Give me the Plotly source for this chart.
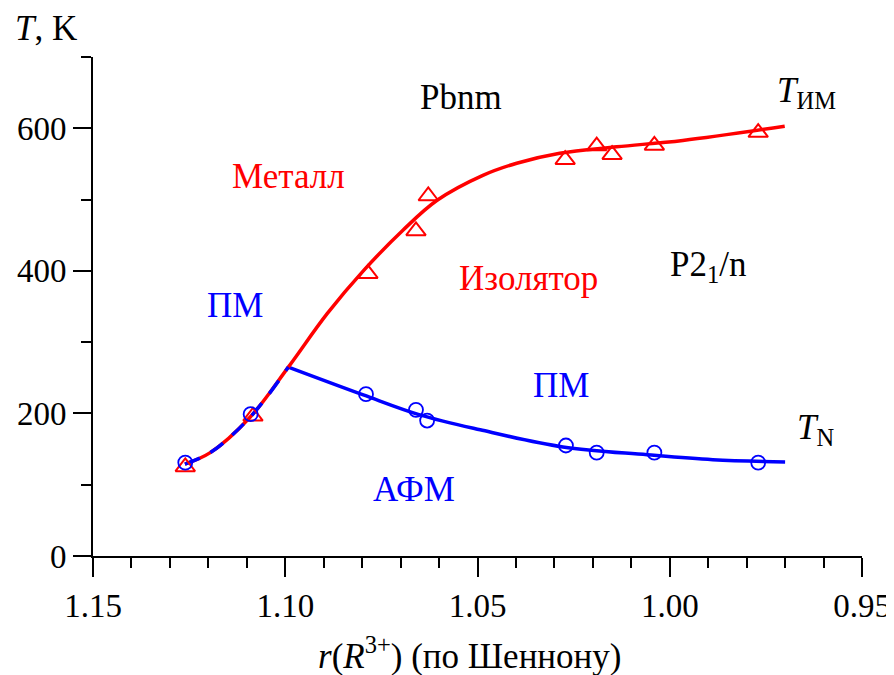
import plotly.graph_objects as go

# Measured points
tim_x = [1.126, 1.1084, 1.0785, 1.066, 1.0628, 1.0272, 1.019, 1.015, 1.004, 0.977]
tim_y = [125, 196, 396, 456, 505, 556, 575, 563, 576, 594]

tn_x = [1.126, 1.109, 1.079, 1.066, 1.0631, 1.027, 1.019, 1.004, 0.977]
tn_y = [131, 199, 227, 205, 190, 155, 145, 145, 131]

# Fitted curves
red_cx = [1.1261, 1.1195, 1.1091, 1.0992, 1.0891, 1.0797, 1.0694, 1.0605, 1.0486, 1.0398, 1.0286, 1.0138, 0.9966, 0.9701]
red_cy = [129, 145, 195, 265, 340, 400, 457, 499, 534, 551, 565, 574, 583, 603]

blue_low_x = [1.1261, 1.1195, 1.1091, 1.0992]
blue_low_y = [129, 145, 195, 265]
blue_high_x = [1.0992, 1.0797, 1.065, 1.0493, 1.0278, 1.0059, 0.9888, 0.9700]
blue_high_y = [265, 226, 198, 177, 153, 142, 135, 132]

x_ticks = [1.15, 1.10, 1.05, 1.00, 0.95]
y_ticks = [0, 200, 400, 600]

RED = "#ff0000"
BLUE = "#0000ff"
FONT = "Liberation Serif"
FS = 33
LFS = 35

fig = go.Figure()
fig.add_trace(go.Scatter(x=blue_high_x, y=blue_high_y, mode="lines", line=dict(color=BLUE, width=3.5, shape="spline"), showlegend=False))
fig.add_trace(go.Scatter(x=red_cx, y=red_cy, mode="lines", line=dict(color=RED, width=3.5, shape="spline"), showlegend=False))
fig.add_trace(go.Scatter(x=blue_low_x, y=blue_low_y, mode="lines", line=dict(color=BLUE, width=3.5, shape="spline", dash="16px,12px"), showlegend=False))
fig.add_trace(go.Scatter(x=tim_x, y=tim_y, mode="markers",
                         marker=dict(symbol="triangle-up-open", size=17, color=RED, line=dict(color=RED, width=2)), showlegend=False))
fig.add_trace(go.Scatter(x=tn_x, y=tn_y, mode="markers",
                         marker=dict(symbol="circle-open", size=14, color=BLUE, line=dict(color=BLUE, width=1.8)), showlegend=False))

labels = [
    ("Pbnm", 1.0544, 643, "black"),
    ("Металл", 1.0992, 533, RED),
    ("ПМ", 1.113, 352, BLUE),
    ("Изолятор", 1.0368, 389, RED),
    ("P2<sub>1</sub>/n", 0.990, 406, "black"),
    ("ПМ", 1.0284, 239, BLUE),
    ("АФМ", 1.0664, 93, BLUE),
    ("<i>T</i><sub>ИМ</sub>", 0.9645, 650, "black"),
    ("<i>T</i><sub>N</sub>", 0.962, 178, "black"),
]
for txt, x, y, c in labels:
    fig.add_annotation(x=x, y=y, xref="x", yref="y", text=txt, showarrow=False,
                       font=dict(family=FONT, size=LFS, color=c), xanchor="center", yanchor="middle")

fig.add_annotation(x=-0.061, y=1.058, xref="paper", yref="paper", text="<i>T</i>, K", showarrow=False,
                   font=dict(family=FONT, size=LFS, color="black"), xanchor="center", yanchor="middle")
fig.add_annotation(x=0.490, y=-0.196, xref="paper", yref="paper",
                   text="<i>r</i>(<i>R</i><sup>3+</sup>) (по Шеннону)", showarrow=False,
                   font=dict(family=FONT, size=LFS, color="black"), xanchor="center", yanchor="middle")

fig.update_layout(
    width=886, height=667,
    margin=dict(l=85, r=32, t=49, b=118.5, autoexpand=False),
    paper_bgcolor="white", plot_bgcolor="white",
    font=dict(family=FONT, size=FS, color="black"),
    xaxis=dict(range=[1.15, 0.95], tickvals=x_ticks, ticktext=[f"{v:.2f}" for v in x_ticks],
               automargin=False,
               showgrid=False, zeroline=False, showline=True, linecolor="black", linewidth=2,
               ticks="outside", ticklen=19, tickwidth=2, tickcolor="black",
               minor=dict(dtick=0.01, tick0=0.95, ticks="outside", ticklen=10, tickwidth=2, tickcolor="black", showgrid=False),
               tickfont=dict(family=FONT, size=FS, color="black")),
    yaxis=dict(range=[0, 700], tickvals=y_ticks, automargin=False,
               showgrid=False, zeroline=False, showline=True, linecolor="black", linewidth=2,
               ticks="outside", ticklen=18, tickwidth=2, tickcolor="black",
               minor=dict(dtick=100, tick0=0, ticks="outside", ticklen=10, tickwidth=2, tickcolor="black", showgrid=False),
               tickfont=dict(family=FONT, size=FS, color="black")),
)

fig.write_html("out.html")
